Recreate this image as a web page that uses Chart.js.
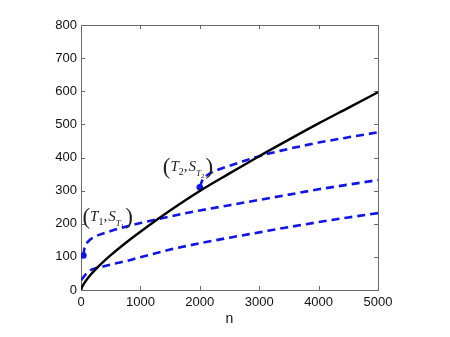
<!DOCTYPE html>
<html lang="en">
<head>
  <meta charset="UTF-8" />
  <title>n</title>
  <script src="https://cdn.jsdelivr.net/npm/chart.js"></script>
  <style>
    html, body { margin: 0; background: #fff; }
  </style>
</head>
<body>
<canvas id="grafik" width="450" height="337"></canvas>
<script>
  // tick labels
  const xTicks = [0, 1000, 2000, 3000, 4000, 5000];
  const yTicks = [0, 100, 200, 300, 400, 500, 600, 700, 800];

  // black solid curve
  const nBlack = [0, 20, 50, 120, 250, 500, 750, 1000, 1500, 2000, 2500, 3000, 3500, 4000, 4500, 5000];
  const sBlack = [0, 10, 19, 37, 63, 105, 142, 176, 240, 299, 352, 404, 454, 503, 550, 597];

  // lower dashed curve
  const nLow = [5, 120, 350, 750, 1000, 1500, 2000, 2500, 3000, 3500, 4000, 4500, 5000];
  const sLow = [30, 55, 70, 87, 99, 122, 141, 158, 174, 190, 205, 219, 232];

  // middle dashed curve, starts at (T1, S_T1)
  const nMid = [40, 60, 120, 250, 500, 750, 1000, 1500, 2000, 2500, 3000, 3500, 4000, 4500, 5000];
  const sMid = [104, 128, 146, 162, 178, 191, 202, 222, 240, 256, 272, 288, 304, 318, 332];

  // upper dashed curve, starts at (T2, S_T2)
  const nHigh = [2000, 2040, 2100, 2200, 2400, 2700, 3000, 3350, 3700, 4000, 4500, 5000];
  const sHigh = [310, 330, 343, 355, 369, 387, 404, 420, 434, 445, 461, 476];

  // marked points
  const nMark = [40, 2000];
  const sMark = [104, 310];

  const mavi = '#0f14e8';

  function noktalar(xs, ys) {
    return xs.map((x, i) => ({ x: x, y: ys[i] }));
  }

  // frame with inward ticks, MATLAB style
  const cerceve = {
    id: 'cerceve',
    beforeDatasetsDraw(chart) {
      const { ctx, chartArea: a, scales } = chart;
      ctx.save();
      ctx.strokeStyle = '#6a6a6a';
      ctx.lineWidth = 1;
      ctx.strokeRect(a.left + 0.5, a.top + 0.5, a.right - a.left, a.bottom - a.top);
      ctx.beginPath();
      xTicks.forEach(v => {
        const px = Math.round(scales.x.getPixelForValue(v)) + 0.5;
        ctx.moveTo(px, a.bottom); ctx.lineTo(px, a.bottom - 4);
        ctx.moveTo(px, a.top); ctx.lineTo(px, a.top + 4);
      });
      yTicks.forEach(v => {
        const py = Math.round(scales.y.getPixelForValue(v)) + 0.5;
        ctx.moveTo(a.left, py); ctx.lineTo(a.left + 4, py);
        ctx.moveTo(a.right, py); ctx.lineTo(a.right - 4, py);
      });
      ctx.stroke();
      ctx.restore();
    }
  };

  // (T_i, S_{T_i}) labels
  function etiket(ctx, x, y, alt) {
    let cx = x;
    ctx.fillStyle = '#222';
    ctx.textBaseline = 'alphabetic';
    ctx.font = '23px "Liberation Serif"';
    ctx.fillText('(', cx, y + 3); cx += ctx.measureText('(').width;
    ctx.font = 'italic 15px "Liberation Serif"';
    ctx.fillText('T', cx, y); cx += ctx.measureText('T').width;
    ctx.font = '10px "Liberation Serif"';
    ctx.fillText(alt, cx, y + 4); cx += ctx.measureText(alt).width;
    ctx.font = '15px "Liberation Serif"';
    ctx.fillText(',', cx, y); cx += ctx.measureText(',').width + 1;
    ctx.font = 'italic 15px "Liberation Serif"';
    ctx.fillText('S', cx, y); cx += ctx.measureText('S').width;
    ctx.font = 'italic 9px "Liberation Serif"';
    ctx.fillText('T', cx, y + 5); cx += ctx.measureText('T').width;
    ctx.font = '7px "Liberation Serif"';
    ctx.fillText(alt, cx, y + 7); cx += ctx.measureText(alt).width + 1;
    ctx.font = '23px "Liberation Serif"';
    ctx.fillText(')', cx, y + 3);
  }

  const etiketler = {
    id: 'etiketler',
    afterDatasetsDraw(chart) {
      const { ctx, scales } = chart;
      ctx.save();
      const x1 = scales.x.getPixelForValue(nMark[0]);
      const y1 = scales.y.getPixelForValue(sMark[0]);
      etiket(ctx, x1 - 1, y1 - 35, '1');
      const x2 = scales.x.getPixelForValue(nMark[1]);
      const y2 = scales.y.getPixelForValue(sMark[1]);
      etiket(ctx, x2 - 37, y2 - 16, '2');
      ctx.restore();
    }
  };

  const kesik = { borderColor: mavi, borderWidth: 2.6, borderDash: [8, 5], pointRadius: 0, fill: false, cubicInterpolationMode: 'monotone' };
  const yaziTipi = { family: '"Liberation Sans", Arial, sans-serif', size: 13 };

  new Chart(document.getElementById('grafik'), {
    type: 'line',
    data: {
      datasets: [
        { data: noktalar(nBlack, sBlack), borderColor: '#000', borderWidth: 2.4, pointRadius: 0, fill: false, cubicInterpolationMode: 'monotone' },
        Object.assign({ data: noktalar(nLow, sLow) }, kesik),
        Object.assign({ data: noktalar(nMid, sMid) }, kesik),
        Object.assign({ data: noktalar(nHigh, sHigh) }, kesik),
        { data: noktalar(nMark, sMark), showLine: false, pointRadius: 3.3, pointBackgroundColor: mavi, pointBorderColor: mavi, borderWidth: 0 }
      ]
    },
    options: {
      responsive: false,
      animation: false,
      layout: { padding: { top: 25, right: 72, left: 0, bottom: 0 } },
      plugins: { legend: { display: false }, tooltip: { enabled: false } },
      scales: {
        x: {
          type: 'linear', min: 0, max: 5000,
          afterBuildTicks: s => { s.ticks = xTicks.map(v => ({ value: v })); },
          afterFit: s => { s.height = 47; },
          grid: { display: false, drawTicks: false },
          border: { display: false },
          ticks: { color: '#111', font: yaziTipi, padding: 5, maxRotation: 0, callback: v => String(v) },
          title: { display: true, text: 'n', color: '#111', font: { family: '"Liberation Sans", Arial, sans-serif', size: 14 }, padding: { top: 0, bottom: 9 } }
        },
        y: {
          min: 0, max: 800,
          afterBuildTicks: s => { s.ticks = yTicks.map(v => ({ value: v })); },
          afterFit: s => { s.width = 81; },
          grid: { display: false, drawTicks: false },
          border: { display: false },
          ticks: { color: '#111', font: yaziTipi, padding: 4, callback: v => String(v) }
        }
      }
    },
    plugins: [cerceve, etiketler]
  });
</script>
</body>
</html>
